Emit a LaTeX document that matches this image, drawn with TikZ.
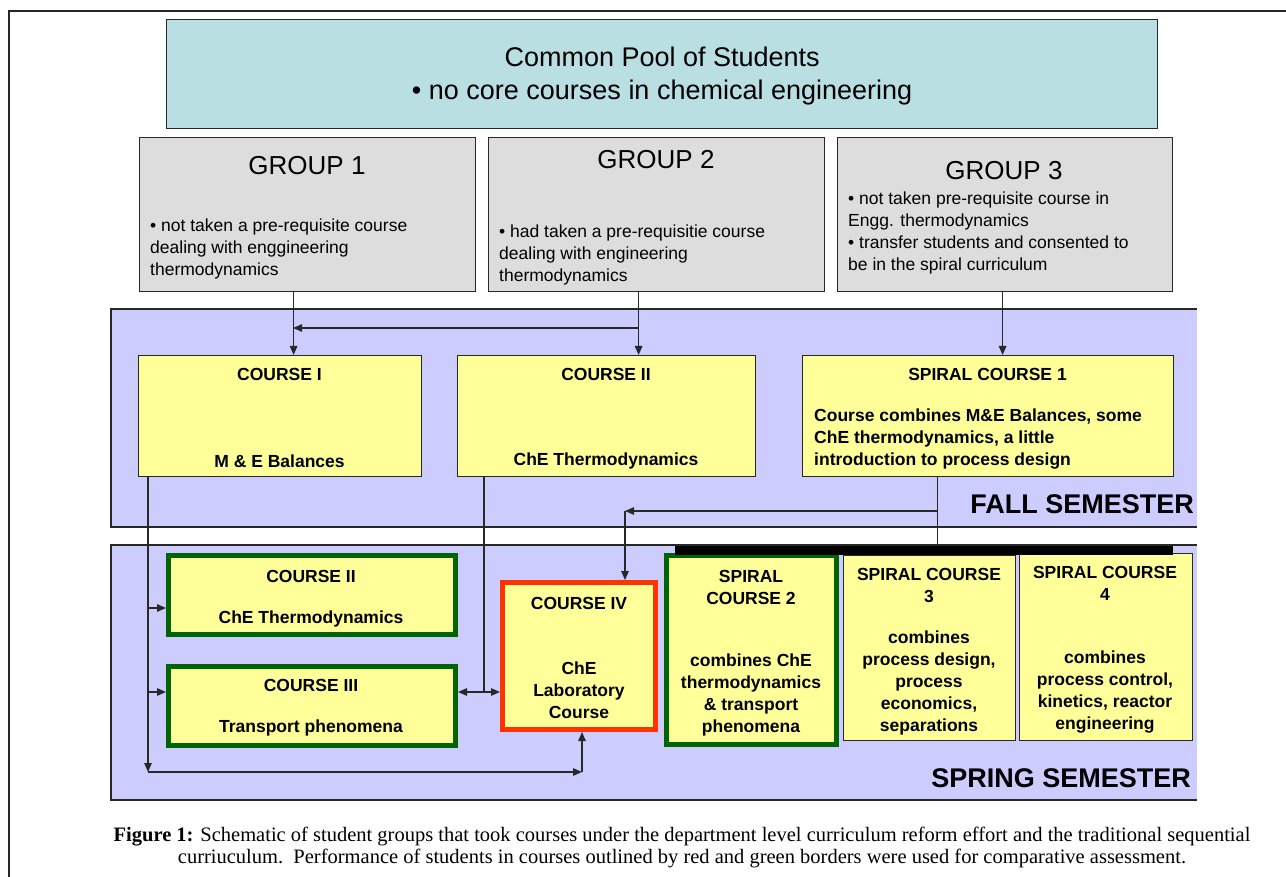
\documentclass[tikz,border=0pt]{standalone}
\usepackage{fontspec}
\setmainfont{Liberation Sans}
\newfontfamily\capfont{Liberation Serif}
\usetikzlibrary{arrows.meta}
\definecolor{poolcyan}{RGB}{185,223,227}
\definecolor{groupgray}{RGB}{221,221,221}
\definecolor{panelblue}{RGB}{204,204,255}
\definecolor{courseyellow}{RGB}{255,255,153}
\definecolor{keygreen}{RGB}{0,100,0}
\definecolor{keyred}{RGB}{255,51,0}
\definecolor{edge}{RGB}{40,40,40}
\tikzset{
  box/.style={draw=edge, line width=1.2pt, anchor=north west, inner sep=0pt},
  poolbox/.style={box, fill=poolcyan},
  groupbox/.style={box, fill=groupgray},
  coursebox/.style={box, fill=courseyellow},
  greenbox/.style={box, fill=courseyellow, draw=keygreen, line width=5pt},
  redbox/.style={box, fill=courseyellow, draw=keyred, line width=5pt},
  pooltext/.style={font=\fontsize{27}{33}\selectfont, align=center, inner sep=0pt},
  grouptitle/.style={font=\fontsize{26}{30}\selectfont, inner sep=0pt},
  groupbody/.style={font=\fontsize{17.5}{22}\selectfont, align=left, anchor=west, inner sep=0pt},
  coursetext/.style={font=\bfseries\fontsize{17.5}{22}\selectfont, align=center, inner sep=0pt},
  coursebody/.style={coursetext, align=left, anchor=west},
  semester/.style={font=\bfseries\fontsize{27}{30}\selectfont, anchor=east, inner sep=0pt},
  tip/.tip={Triangle[length=9pt,width=7.5pt]},
  arr/.style={-tip, line width=1.2pt, draw=edge},
  dblarr/.style={tip-tip, line width=1.2pt, draw=edge},
  link/.style={line width=1.2pt, draw=edge},
}
\begin{document}
\begin{tikzpicture}[x=1pt,y=-1pt]
\useasboundingbox (0,0) rectangle (1286,877);
\fill[white] (0,0) rectangle (1286,877);

% page frame
\draw[line width=2pt, black!85] (9,877) -- (9,11) -- (1286,11);

% semester panels (open on the right)
\fill[panelblue] (111,309) rectangle (1197,527);
\draw[line width=1.2pt, edge] (1197,309) -- (111,309) -- (111,527) -- (1197,527);
\fill[panelblue] (111,545) rectangle (1197,800);
\draw[line width=1.2pt, edge] (1197,545) -- (111,545) -- (111,800) -- (1197,800);

% common pool
\node[poolbox, minimum width=991, minimum height=109] (pool) at (166,19) {};
\node[pooltext] (poolt) at ([yshift=-2]pool.center) {Common Pool of Students\\\textbullet{} no core courses in chemical engineering};

% student groups
\node[groupbox, minimum width=336, minimum height=154] (g1) at (139,137) {};
\node[groupbox, minimum width=336, minimum height=154] (g2) at (488,137) {};
\node[groupbox, minimum width=335, minimum height=154] (g3) at (837,137) {};
\node[grouptitle] (g1t) at (307,166) {GROUP 1};
\node[grouptitle] (g2t) at (656,160) {GROUP 2};
\node[grouptitle] (g3t) at (1004,171) {GROUP 3};
\node[groupbody] (g1b) at (150,249) {\textbullet{} not taken a pre-requisite course\\dealing with enggineering\\thermodynamics};
\node[groupbody] (g2b) at (499,255) {\textbullet{} had taken a pre-requisitie course\\dealing with engineering\\thermodynamics};
\node[groupbody] (g3b) at (848,233) {\textbullet{} not taken pre-requisite course in\\Engg. thermodynamics\\\textbullet{} transfer students and consented to\\be in the spiral curriculum};

% fall semester courses
\node[coursebox, minimum width=283, minimum height=121] (c1) at (138,355) {};
\node[coursebox, minimum width=298, minimum height=121] (c2) at (457,355) {};
\node[coursebox, minimum width=371, minimum height=121] (s1) at (802,355) {};
\node[coursetext] (c1t) at (279.5,374) {COURSE I};
\node[coursetext] (c1b) at (279.5,461) {M \& E Balances};
\node[coursetext] (c2t) at (606,374) {COURSE II};
\node[coursetext] (c2b) at (606,461) {ChE Thermodynamics};
\node[coursetext] (s1t) at (987.5,374) {SPIRAL COURSE 1};
\node[coursebody] (s1b) at (814,439) {Course combines M\&E Balances, some\\ChE thermodynamics, a little\\introduction to process design};
\node[semester] (fall) at (1194,504) {FALL SEMESTER};

% spring semester courses
\node[greenbox, minimum width=287, minimum height=79] (c2s) at (166,553) {};
\node[greenbox, minimum width=287, minimum height=79] (c3s) at (166,664) {};
\node[redbox, minimum width=153, minimum height=147] (c4) at (500,580) {};
\node[greenbox, minimum width=170, minimum height=189] (s2) at (664,553) {};
\node[coursebox, line width=1pt, minimum width=172, minimum height=185] (s3) at (843,555) {};
\node[coursebox, line width=1pt, minimum width=173, minimum height=187] (s4) at (1019,553) {};
\node[coursetext] (c2st) at (311,576) {COURSE II};
\node[coursetext] (c2sb) at (311,619) {ChE Thermodynamics};
\node[coursetext] (c3st) at (311,685) {COURSE III};
\node[coursetext] (c3sb) at (311,728) {Transport phenomena};
\node[coursetext] (c4t) at (579,603) {COURSE IV};
\node[coursetext] (c4b) at (579,690) {ChE\\Laboratory\\Course};
\node[coursetext] (s2t) at (751,587) {SPIRAL\\COURSE 2};
\node[coursetext] (s2b) at (751,695) {combines ChE\\thermodynamics\\\& transport\\phenomena};
\node[coursetext] (s3t) at (929,585) {SPIRAL COURSE\\3};
\node[coursetext] (s3b) at (929,683) {combines\\process design,\\process\\economics,\\separations};
\node[coursetext] (s4t) at (1105,583.5) {SPIRAL COURSE\\4};
\node[coursetext] (s4b) at (1105,692.5) {combines\\process control,\\kinetics, reactor\\engineering};
\node[semester] (spring) at (1191,778) {SPRING SEMESTER};

% bar joining the spiral sequence
\node[fill=black, anchor=north west, inner sep=0pt, minimum width=498, minimum height=9] (bar) at (675,546) {};

% routing points
\coordinate (j12) at (293,328);
\coordinate (js) at (625,511);
\coordinate (jl) at (148,772);
\coordinate (jr) at (582,772);

% group to course connectors
\draw[arr] ([xshift=-14]g1.south) -- ([xshift=-14]g1.south |- c1.north);
\draw[arr] ([xshift=-18]g2.south) -- ([xshift=-18]g2.south |- c2.north);
\draw[arr] ([xshift=-18]g2.south |- j12) -- (j12);
\draw[arr] ([xshift=-2.5]g3.south) -- ([xshift=-2.5]g3.south |- s1.north);

% spiral course 1 onward
\draw[link] ([xshift=-50.5]s1.south) -- ([xshift=-50.5]s1.south |- bar.north);
\draw[arr] ([xshift=-50.5]s1.south |- js) -- (js);
\draw[arr] (js) -- (js |- c4.north);

% course I onward
\draw[arr] ([xshift=10]c1.south west) -- (jl);
\draw[arr] (jl) -- (jr);
\draw[arr] (jr) -- (jr |- c4.south);
\draw[arr] ([xshift=10]c1.south west |- 0,608) -- (c2s.west |- 0,608);
\draw[arr] ([xshift=10]c1.south west |- 0,692) -- (c3s.west |- 0,692);

% course II onward
\draw[link] ([xshift=27]c2.south west) -- ([xshift=27]c2.south west |- 0,692);
\draw[dblarr] (c3s.east |- 0,692) -- (c4.west |- 0,692);

% caption
\node[font=\capfont\fontsize{20.5}{22}\selectfont, align=center, inner sep=0pt] (cap) at (682,847)
  {\textbf{Figure 1:} Schematic of student groups that took courses under the department level curriculum reform effort and the traditional sequential\\curriuculum.\ \ Performance of students in courses outlined by red and green borders were used for comparative assessment.};
\end{tikzpicture}
\end{document}
